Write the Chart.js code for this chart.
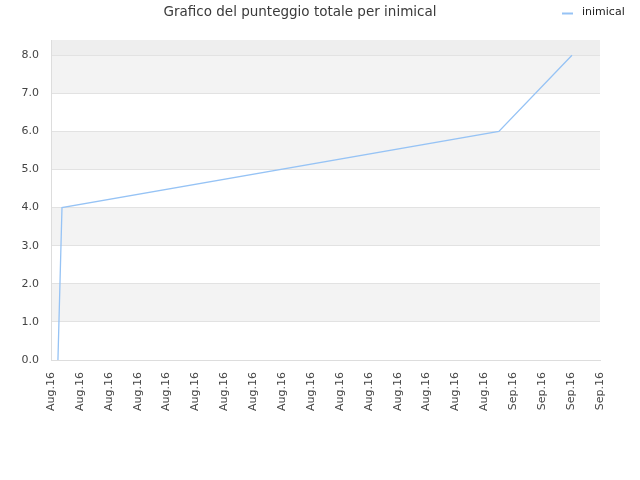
<!DOCTYPE html>
<html>
<head>
<meta charset="utf-8">
<script src="https://cdn.jsdelivr.net/npm/chart.js@4/dist/chart.umd.min.js"></script>
<style>
  html, body { margin: 0; padding: 0; background: #fff; }
  #wrap { width: 640px; height: 480px; }
</style>
</head>
<body>
<div id="wrap"><canvas id="score-chart" width="640" height="480"></canvas></div>
<script>
// tick labels along the bottom, one per slot
const tickLabels = [
    'Aug.16', 'Aug.16', 'Aug.16', 'Aug.16', 'Aug.16',
    'Aug.16', 'Aug.16', 'Aug.16', 'Aug.16', 'Aug.16',
    'Aug.16', 'Aug.16', 'Aug.16', 'Aug.16', 'Aug.16',
    'Aug.16', 'Sep.16', 'Sep.16', 'Sep.16', 'Sep.16'
];

// where each point falls, in tick slots, and its total score
const pointSlot = [0.24, 0.38, 15.5, 18.03];
const totalScore = [0, 4, 6, 8];

const seriesName = 'inimical';
const chartTitle = 'Grafico del punteggio totale per inimical';

const lineColor = 'rgba(150,195,245,1)';
const fontFamily = "'DejaVu Sans', sans-serif";

var points = [];
for (let i = 0; i < pointSlot.length; i++)
    points.push({ x: pointSlot[i], y: totalScore[i] });

// grey bands every other unit, darker strip above the last tick
const bandPlugin = {
    id: 'bands',
    beforeDraw(chart) {
        const ctx = chart.ctx;
        const area = chart.chartArea;
        const y = chart.scales.y;
        ctx.save();
        for (let v = 1; v < 8; v += 2) {
            const top = y.getPixelForValue(v + 1);
            const bottom = y.getPixelForValue(v);
            ctx.fillStyle = '#f3f3f3';
            ctx.fillRect(area.left, top, area.right - area.left, bottom - top);
        }
        const eight = y.getPixelForValue(8);
        ctx.fillStyle = '#eeeeee';
        ctx.fillRect(area.left, area.top, area.right - area.left, eight - area.top);
        ctx.restore();
    }
};

// small legend in the top right corner, same row as the title
const legendPlugin = {
    id: 'cornerLegend',
    afterDraw(chart) {
        const ctx = chart.ctx;
        ctx.save();
        ctx.strokeStyle = lineColor;
        ctx.lineWidth = 2;
        ctx.beginPath();
        ctx.moveTo(562, 13.5);
        ctx.lineTo(573, 13.5);
        ctx.stroke();
        ctx.fillStyle = '#222';
        ctx.font = '11px ' + fontFamily;
        ctx.textBaseline = 'middle';
        ctx.fillText(seriesName, 582, 12.5);
        ctx.restore();
    }
};

const scoreConfig = {
    type: 'line',
    data: {
        datasets: [
            {
                label: seriesName,
                data: points,
                borderColor: lineColor,
                borderWidth: 1.3,
                pointRadius: 0,
                fill: false,
                tension: 0,
            }
        ]
    },
    options: {
        responsive: false,
        animation: false,
        layout: {
            padding: { left: 0, right: 40, top: 0, bottom: 0 }
        },
        scales: {
            x: {
                type: 'linear',
                min: 0,
                max: tickLabels.length - 1,
                afterBuildTicks: function(scale) {
                    scale.ticks = tickLabels.map((t, i) => ({ value: i }));
                },
                afterFit: function(scale) {
                    scale.height = 120;
                },
                ticks: {
                    autoSkip: false,
                    maxRotation: 90,
                    minRotation: 90,
                    color: '#444',
                    font: { family: fontFamily, size: 11 },
                    padding: 12,
                    callback: function(val) {
                        return tickLabels[Math.round(val)];
                    }
                },
                grid: { display: false, drawTicks: false },
                border: { color: '#dddddd' }
            },
            y: {
                type: 'linear',
                min: 0,
                max: 8.4,
                afterBuildTicks: function(scale) {
                    scale.ticks = [0, 1, 2, 3, 4, 5, 6, 7, 8].map(v => ({ value: v }));
                },
                afterFit: function(scale) {
                    scale.width = 51;
                },
                ticks: {
                    color: '#444',
                    font: { family: fontFamily, size: 11 },
                    padding: 12,
                    callback: function(val) {
                        return val.toFixed(1);
                    }
                },
                grid: {
                    color: '#e2e2e2',
                    drawTicks: false
                },
                border: { color: '#dddddd' }
            }
        },
        plugins: {
            legend: { display: false },
            tooltip: { enabled: false },
            title: {
                display: true,
                text: chartTitle,
                color: '#3a3a3a',
                font: { family: fontFamily, size: 13.5, weight: 'normal', lineHeight: 1.2 },
                padding: { top: 4, bottom: 19.8 }
            }
        }
    },
    plugins: [bandPlugin, legendPlugin]
};

const scoreChart = new Chart(
    document.getElementById('score-chart').getContext('2d'),
    scoreConfig
);
</script>
</body>
</html>
